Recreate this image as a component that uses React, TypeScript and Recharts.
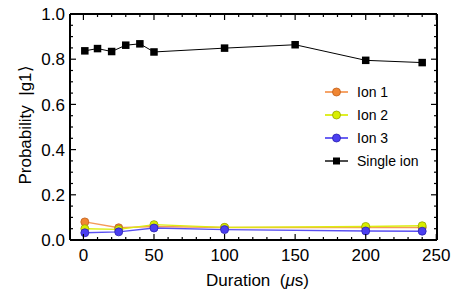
import { LineChart, Line, XAxis, YAxis, Legend } from 'recharts';

const FONT = '"Liberation Sans", Arial, Helvetica, sans-serif';

// durations in microseconds
const ionDurations = [1, 25, 50, 100, 200, 240];
const ion1Values = [0.08, 0.054, 0.06, 0.055, 0.055, 0.055];
const ion2Values = [0.05, 0.047, 0.068, 0.056, 0.06, 0.063];
const ion3Values = [0.032, 0.036, 0.053, 0.046, 0.04, 0.039];

const singleDurations = [1, 10, 20, 30, 40, 50, 100, 150, 200, 240];
const singleValues = [0.837, 0.847, 0.834, 0.862, 0.868, 0.832, 0.849, 0.864, 0.795, 0.785];

const xMajorTicks = [0, 50, 100, 150, 200, 250];
const xAllTicks = [
  0, 10, 20, 30, 40, 50, 60, 70, 80, 90, 100, 110, 120, 130, 140, 150, 160, 170, 180, 190, 200,
  210, 220, 230, 240, 250,
];
const yMajorTicks = [0, 0.2, 0.4, 0.6, 0.8, 1.0];
const yAllTicks = [
  0, 0.05, 0.1, 0.15, 0.2, 0.25, 0.3, 0.35, 0.4, 0.45, 0.5, 0.55, 0.6, 0.65, 0.7, 0.75, 0.8,
  0.85, 0.9, 0.95, 1.0,
];

const toPoints = (xs: number[], ys: number[]) => xs.map((x, i) => ({ x, y: ys[i] }));

const series = [
  { name: 'Ion 1', data: toPoints(ionDurations, ion1Values), line: '#f59a58', fill: '#f08633', edge: '#c0601c' },
  { name: 'Ion 2', data: toPoints(ionDurations, ion2Values), line: '#dcee10', fill: '#d8ee00', edge: '#95a400' },
  { name: 'Ion 3', data: toPoints(ionDurations, ion3Values), line: '#5a50f2', fill: '#4b3ff0', edge: '#2a20b0' },
];
const single = { name: 'Single ion', data: toPoints(singleDurations, singleValues) };

const isMajor = (list: number[], v: number) => list.some((m) => Math.abs(m - v) < 1e-9);

function BottomTick(props: any) {
  const { x, y, payload } = props;
  const major = isMajor(xMajorTicks, payload.value);
  return (
    <g>
      <line x1={x} x2={x} y1={y} y2={y - (major ? 6 : 3)} stroke="#000" strokeWidth={1.2} />
      {major && (
        <text x={x} y={y + 9} dy="0.71em" textAnchor="middle" fontSize={17} fontFamily={FONT} fill="#000">
          {payload.value}
        </text>
      )}
    </g>
  );
}

function TopTick(props: any) {
  const { x, y, payload } = props;
  const major = isMajor(xMajorTicks, payload.value);
  return <line x1={x} x2={x} y1={y} y2={y + (major ? 6 : 3)} stroke="#000" strokeWidth={1.2} />;
}

function LeftTick(props: any) {
  const { x, y, payload } = props;
  const major = isMajor(yMajorTicks, payload.value);
  return (
    <g>
      <line x1={x} x2={x + (major ? 6 : 3)} y1={y} y2={y} stroke="#000" strokeWidth={1.2} />
      {major && (
        <text x={x - 5} y={y} dy="0.36em" textAnchor="end" fontSize={17} fontFamily={FONT} fill="#000">
          {Number(payload.value).toFixed(1)}
        </text>
      )}
    </g>
  );
}

function RightTick(props: any) {
  const { x, y, payload } = props;
  const major = isMajor(yMajorTicks, payload.value);
  return <line x1={x} x2={x - (major ? 6 : 3)} y1={y} y2={y} stroke="#000" strokeWidth={1.2} />;
}

function SquareDot(props: any) {
  const { cx, cy, index } = props;
  if (cx == null || cy == null) return <g key={`sq-${index}`} />;
  return <rect key={`sq-${index}`} x={cx - 3.75} y={cy - 3.75} width={7.5} height={7.5} fill="#000" />;
}

function LegendBox() {
  const rowStyle = { display: 'flex', alignItems: 'center', height: 23 } as const;
  const textStyle = { fontFamily: FONT, fontSize: 14, color: '#000', marginLeft: 9, whiteSpace: 'nowrap' } as const;
  return (
    <div>
      {series.map((s) => (
        <div key={s.name} style={rowStyle}>
          <svg width={23} height={12}>
            <line x1={0} x2={23} y1={6} y2={6} stroke={s.line} strokeWidth={1.8} />
            <circle cx={11.5} cy={6} r={4} fill={s.fill} stroke={s.edge} strokeWidth={0.8} />
          </svg>
          <span style={textStyle}>{s.name}</span>
        </div>
      ))}
      <div style={rowStyle}>
        <svg width={23} height={12}>
          <line x1={0} x2={23} y1={6} y2={6} stroke="#000" strokeWidth={1.4} />
          <rect x={8} y={2.5} width={7} height={7} fill="#000" />
        </svg>
        <span style={textStyle}>{single.name}</span>
      </div>
    </div>
  );
}

const axisLine = { stroke: '#000', strokeWidth: 2 };

export default function App() {
  return (
    <div style={{ position: 'absolute', left: 0, top: 0, width: 463, height: 294, background: '#fff' }}>
      <LineChart width={463} height={294} margin={{ top: 13, right: 25, bottom: 53, left: 0 }}>
        <XAxis
          xAxisId="bottom"
          dataKey="x"
          type="number"
          domain={[-9.5, 250.5]}
          allowDataOverflow
          ticks={xAllTicks}
          interval={0}
          height={1}
          stroke="#000"
          tickSize={0}
          tickMargin={0}
          tickLine={false}
          axisLine={axisLine}
          tick={<BottomTick />}
          label={{
            content: (p: any) => {
              const vb = p.viewBox || {};
              return (
                <text
                  x={vb.x + vb.width / 2 + 4}
                  y={vb.y + 46}
                  textAnchor="middle"
                  fontSize={17}
                  fontFamily={FONT}
                  fill="#000"
                  style={{ whiteSpace: 'pre' }}
                >
                  Duration  (<tspan fontStyle="italic">μ</tspan>s)
                </text>
              );
            },
          }}
        />
        <XAxis
          xAxisId="top"
          orientation="top"
          dataKey="x"
          type="number"
          domain={[-9.5, 250.5]}
          allowDataOverflow
          ticks={xAllTicks}
          interval={0}
          height={1}
          stroke="#000"
          tickSize={0}
          tickMargin={0}
          tickLine={false}
          axisLine={axisLine}
          tick={<TopTick />}
        />
        <YAxis
          yAxisId="left"
          type="number"
          domain={[0, 1]}
          allowDataOverflow
          ticks={yAllTicks}
          interval={0}
          width={70}
          stroke="#000"
          tickSize={0}
          tickMargin={0}
          tickLine={false}
          axisLine={axisLine}
          tick={<LeftTick />}
          label={{
            content: (p: any) => {
              const vb = p.viewBox || {};
              const cy = vb.y + vb.height / 2 - 2;
              return (
                <text
                  x={31}
                  y={cy}
                  transform={`rotate(-90, 31, ${cy})`}
                  textAnchor="middle"
                  fontSize={17}
                  fontFamily={FONT}
                  fill="#000"
                  style={{ whiteSpace: 'pre' }}
                >
                  {'Probability  |g1\u27E9'}
                </text>
              );
            },
          }}
        />
        <YAxis
          yAxisId="right"
          orientation="right"
          type="number"
          domain={[0, 1]}
          allowDataOverflow
          ticks={yAllTicks}
          interval={0}
          width={1}
          stroke="#000"
          tickSize={0}
          tickMargin={0}
          tickLine={false}
          axisLine={axisLine}
          tick={<RightTick />}
        />
        {series.map((s) => (
          <Line
            key={s.name}
            xAxisId="bottom"
            yAxisId="left"
            data={s.data}
            dataKey="y"
            name={s.name}
            stroke={s.line}
            strokeWidth={1.4}
            dot={{ r: 4, fill: s.fill, stroke: s.edge, strokeWidth: 0.8 }}
            activeDot={false}
            isAnimationActive={false}
          />
        ))}
        <Line
          xAxisId="bottom"
          yAxisId="left"
          data={single.data}
          dataKey="y"
          name={single.name}
          stroke="#000"
          strokeWidth={1}
          dot={<SquareDot />}
          activeDot={false}
          isAnimationActive={false}
        />
        <Legend
          layout="vertical"
          align="center"
          verticalAlign="middle"
          content={() => <LegendBox />}
          wrapperStyle={{ position: 'absolute', left: 325, top: 80, width: 130, height: 92 }}
        />
      </LineChart>
    </div>
  );
}
